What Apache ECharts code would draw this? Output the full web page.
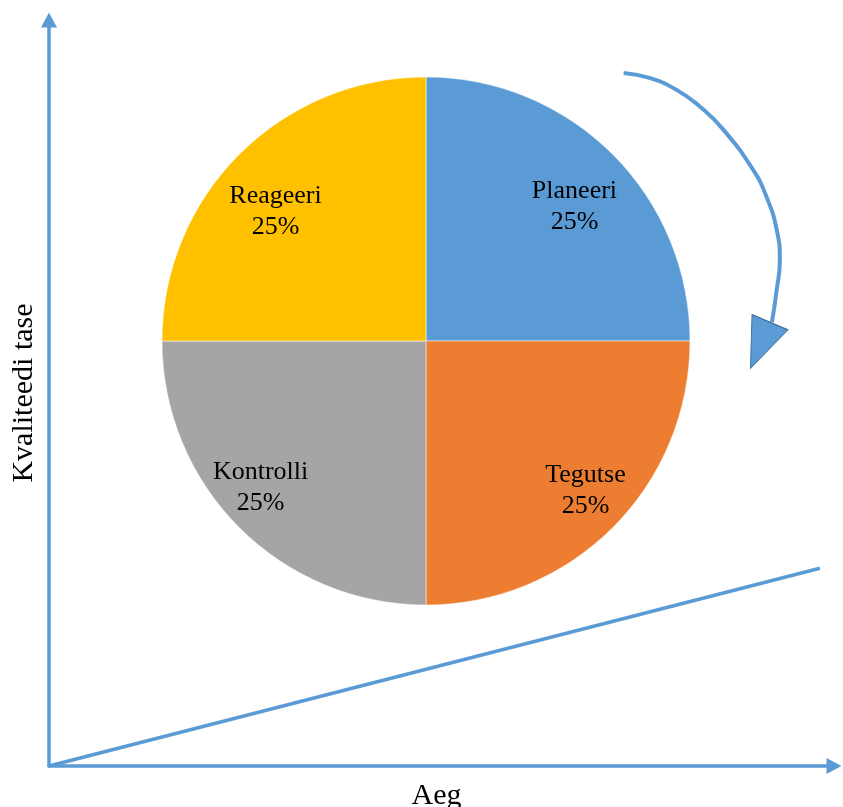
<!DOCTYPE html>
<html>
<head>
<meta charset="utf-8">
<script src="https://cdn.jsdelivr.net/npm/echarts@6/dist/echarts.min.js"></script>
<style>
html, body { margin: 0; padding: 0; background: #fff; }
#chart { width: 843px; height: 807px; }
</style>
</head>
<body>
<div id="chart"></div>
<script>
// tsükli etapid (pie)
const phaseNames = ["Planeeri", "Tegutse", "Kontrolli", "Reageeri"];
const phaseValues = [25, 25, 25, 25];
const phaseColors = ["#5B9BD5", "#ED7D31", "#A5A5A5", "#FFC000"];

// kvaliteedi kasvu joon (Aeg -> Kvaliteedi tase)
const trendLine = [[0, 0], [98.2, 26.5]];

// kaarnool ringi kõrval
const arcPoints = [
    [73.2, 92.9], [76.6, 92.2], [80.0, 90.6], [82.9, 88.4], [85.9, 85.3],
    [89.7, 79.9], [91.4, 76.3], [92.7, 71.9], [93.1, 67.8], [92.7, 63.8], [92.1, 59.5]
];
const arrowHead = [[90.6, 56.4]];

// axis names
const xName = "Aeg";
const yName = "Kvaliteedi tase";

const blue = "#5B9BD5";
const serif = "'Liberation Serif', 'Times New Roman', serif";

// label offsets from the default inside position
const labelShift = [[53, -39], [64, 54], [-70, 51], [-55, -34]];

const chart = echarts.init(document.getElementById("chart"));

const option = {
    animation: false,
    grid: { left: 49, right: 9, top: 20, bottom: 41, containLabel: false, outerBoundsMode: "none" },
    xAxis: {
        type: "value", min: 0, max: 100,
        name: xName, nameLocation: "middle", nameGap: 14,
        nameTextStyle: { fontFamily: serif, fontSize: 30, color: "#000", lineHeight: 32, padding: [0, 10, 0, 0] },
        axisLine: { lineStyle: { color: blue, width: 3.5 }, symbol: ["none", "triangle"], symbolSize: [16, 15] },
        axisTick: { show: false }, axisLabel: { show: false }, splitLine: { show: false }
    },
    yAxis: {
        type: "value", min: 0, max: 100,
        name: yName, nameLocation: "middle", nameGap: 10,
        nameTextStyle: { fontFamily: serif, fontSize: 30, color: "#000", lineHeight: 30 },
        axisLine: { lineStyle: { color: blue, width: 3.5 }, symbol: ["none", "triangle"], symbolSize: [16, 15] },
        axisTick: { show: false }, axisLabel: { show: false }, splitLine: { show: false }
    },
    series: [
        {
            type: "line",
            data: trendLine,
            symbol: "none",
            lineStyle: { color: blue, width: 3.5 },
            silent: true
        },
        {
            type: "line",
            data: arcPoints,
            smooth: 0.5,
            smoothConstraint: false,
            symbol: "none",
            lineStyle: { color: blue, width: 4 },
            silent: true
        },
        {
            type: "scatter",
            data: arrowHead,
            symbol: "triangle",
            symbolSize: [39, 50],
            symbolRotate: 157,
            itemStyle: { color: blue, borderColor: "#41719C", borderWidth: 1, opacity: 1 },
            silent: true
        },
        {
            type: "pie",
            center: [426, 341],
            radius: 264,
            startAngle: 90,
            clockwise: true,
            silent: true,
            data: phaseNames.map((name, i) => ({
                name: name,
                value: phaseValues[i],
                itemStyle: { color: phaseColors[i] }
            })),
            itemStyle: { borderColor: "rgba(255,255,255,0.5)", borderWidth: 1 },
            label: {
                show: true,
                position: "inside",
                fontFamily: serif,
                fontSize: 26,
                lineHeight: 31,
                color: "#000",
                formatter: (p) => p.name + "\n" + Math.round(p.percent) + "%"
            },
            labelLine: { show: false },
            labelLayout: (params) => ({
                dx: labelShift[params.dataIndex][0],
                dy: labelShift[params.dataIndex][1]
            })
        }
    ]
};

chart.setOption(option);
</script>
</body>
</html>
